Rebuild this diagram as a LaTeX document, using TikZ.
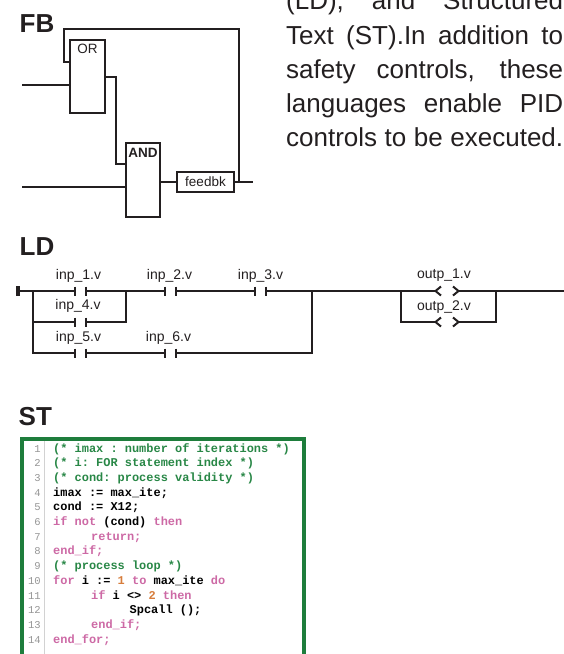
\documentclass[tikz,border=0pt]{standalone}
\usepackage{fontspec}
\setmainfont{Liberation Sans}
\setmonofont{Liberation Mono}
\usetikzlibrary{calc}
\definecolor{ink}{RGB}{35,31,32}
\definecolor{stgreen}{RGB}{30,125,60}
\definecolor{cmt}{RGB}{40,135,70}
\definecolor{kw}{RGB}{205,105,165}
\definecolor{num}{RGB}{215,125,60}
\definecolor{lnum}{RGB}{150,150,150}
\definecolor{gut}{RGB}{210,210,210}
\begin{document}
\begin{tikzpicture}[x=1pt,y=-1pt,
  wire/.style={draw=ink,line width=2pt},
  block/.style={draw=ink,line width=2pt,inner sep=0pt,outer sep=0pt,anchor=north west},
  blocklbl/.style={inner sep=0pt,text=ink,font=\fontsize{13.5pt}{14pt}\selectfont},
  heading/.style={anchor=base west,inner sep=0pt,text=ink,font=\fontsize{26pt}{30pt}\selectfont\bfseries},
  para/.style={anchor=base west,inner sep=0pt,text=ink,font=\fontsize{26pt}{34pt}\selectfont},
  contact/.style={minimum width=11pt,minimum height=9pt,inner sep=0pt,outer sep=0pt},
  coil/.style={minimum width=23pt,minimum height=9pt,inner sep=0pt,outer sep=0pt},
  ldlbl/.style={inner sep=0pt,text=ink,font=\fontsize{14pt}{15pt}\selectfont},
  code/.style={anchor=base west,inner sep=0pt,font=\fontsize{11.95pt}{14pt}\selectfont\ttfamily\bfseries},
  lno/.style={anchor=base east,inner sep=0pt,text=lnum,font=\fontsize{10.5pt}{12pt}\selectfont\ttfamily},
]
\clip (0,0) rectangle (564,654);

% ---------------- paragraph ----------------
\node[para] (p1) at (286,9.5) {\makebox[277pt][s]{(LD), and Structured}};
\node[para] (p2) at (286,44) {\makebox[277pt][s]{Text (ST).In addition to}};
\node[para] (p3) at (286,78) {\makebox[277pt][s]{safety controls, these}};
\node[para] (p4) at (286,112) {\makebox[277pt][s]{languages enable PID}};
\node[para] (p5) at (286,146.5) {\makebox[277pt][s]{controls to be executed.}};

% ---------------- FB ----------------
\node[heading] (hfb) at (19.5,32) {FB};
\node[block,minimum width=35pt,minimum height=73pt] (orb) at (70,40) {};
\node[block,minimum width=34pt,minimum height=74pt] (andb) at (126,143) {};
\node[block,minimum width=57pt,minimum height=20pt] (fbk) at (177,172) {};
\node[blocklbl] (fbkt) at (fbk.center) {feedbk};
\node[blocklbl,anchor=north] (ort) at ($(orb.north)+(0,4)$) {OR};
\node[blocklbl,anchor=north,font=\fontsize{13.5pt}{14pt}\selectfont\bfseries] (andt) at ($(andb.north)+(0,5)$) {AND};

\coordinate (in1) at (22,85);
\coordinate (in2) at (22,187);
\coordinate (out) at (253,182);
\coordinate (ltop) at (64,29);
\coordinate (o2) at ($(orb.north west)+(0,22)$);
\coordinate (a1) at ($(andb.north west)+(0,21)$);
\coordinate (lp) at ($(fbk.east)+(5,0)$);
\draw[wire] (in1) -- (in1 -| orb.west);
\draw[wire] (orb.east) -- ++(11,0) |- (a1);
\draw[wire] (in2) -- (in2 -| andb.west);
\draw[wire] (fbk.west -| andb.east) -- (fbk.west);
\draw[wire] (fbk.east) -- (out);
\draw[wire] (lp) |- (ltop) |- (o2);

% ---------------- LD ----------------
\node[heading] (hld) at (19.5,255) {LD};
\node[contact] (c1) at (80.5,291) {};
\node[contact] (c2) at (170.5,291) {};
\node[contact] (c3) at (260.5,291) {};
\node[contact] (c4) at (80.5,322) {};
\node[contact] (c5) at (80.5,353) {};
\node[contact] (c6) at (170.5,353) {};
\node[coil] (q1) at (447,291) {};
\node[coil] (q2) at (447,322) {};
\foreach \n in {c1,c2,c3,c4,c5,c6}
  \draw[wire] (\n.north west) -- (\n.south west) (\n.north east) -- (\n.south east);
\foreach \n in {q1,q2}
  \draw[wire,line join=miter] ($(\n.west)+(5.5,-4.5)$) -- (\n.west) -- ($(\n.west)+(5.5,4.5)$)
        ($(\n.east)+(-5.5,-4.5)$) -- (\n.east) -- ($(\n.east)+(-5.5,4.5)$);

\node[ldlbl] (l1) at ($(c1)+(-2,-15.5)$) {inp\_1.v};
\node[ldlbl] (l2) at ($(c2)+(-1,-15.5)$) {inp\_2.v};
\node[ldlbl] (l3) at ($(c3)+(0,-15.5)$) {inp\_3.v};
\node[ldlbl] (l4) at ($(c4)+(-2.5,-16)$) {inp\_4.v};
\node[ldlbl] (l5) at ($(c5)+(-2,-15.5)$) {inp\_5.v};
\node[ldlbl] (l6) at ($(c6)+(-2,-15.5)$) {inp\_6.v};
\node[ldlbl] (l7) at ($(q1)+(-3,-16)$) {outp\_1.v};
\node[ldlbl] (l8) at ($(q2)+(-3,-15)$) {outp\_2.v};

\coordinate (rail) at (18,291);
\coordinate (j1) at (33,291);
\coordinate (j2) at (126,291);
\coordinate (j4) at (312,291);
\coordinate (k1) at (401,291);
\coordinate (k2) at (496,291);
\coordinate (rend) at (566,291);
\draw[ink,line width=3.5pt] ($(rail)+(0,-5)$) -- ($(rail)+(0,5)$);
\draw[wire] (rail) -- (c1.west) (c1.east) -- (c2.west) (c2.east) -- (c3.west)
  (c3.east) -- (q1.west) (q1.east) -- (rend);
\draw[wire] (j1) |- (c5.west);
\draw[wire] (c4.west -| j1) -- (c4.west);
\draw[wire] (c4.east) -| (j2);
\draw[wire] (c5.east) -- (c6.west);
\draw[wire] (c6.east) -| (j4);
\draw[wire] (k1) |- (q2.west);
\draw[wire] (q2.east) -| (k2);

% ---------------- ST ----------------
\node[heading] (hst) at (18.5,425) {ST};
\draw[stgreen,line width=4pt,fill=white] (22,439) rectangle (304,700);
\draw[gut,line width=0.8pt] (44,441) -- (44,660);

\foreach \k [evaluate=\k as \yy using 452+14.7*(\k-1)] in {1,...,14}
  \node[lno] (n\k) at (41,\yy) {\k};

\node[code,text=cmt] (s1) at (53,452) {(* imax : number of iterations *)};
\node[code,text=cmt] (s2) at (53,466.7) {(* i: FOR statement index *)};
\node[code,text=cmt] (s3) at (53,481.4) {(* cond: process validity *)};
\node[code,text=black] (s4) at (53,496.1) {imax := max\_ite;};
\node[code,text=black] (s5) at (53,510.8) {cond := X12;};
\node[code,text=black] (s6) at (53,525.5) {\textcolor{kw}{if not} (cond) \textcolor{kw}{then}};
\node[code,text=kw] (s7) at (91,540.2) {return;};
\node[code,text=kw] (s8) at (53,554.9) {end\_if;};
\node[code,text=cmt] (s9) at (53,569.6) {(* process loop *)};
\node[code,text=black] (s10) at (53,584.3) {\textcolor{kw}{for} i := \textcolor{num}{1} \textcolor{kw}{to} max\_ite \textcolor{kw}{do}};
\node[code,text=black] (s11) at (91,599) {\textcolor{kw}{if} i <> \textcolor{num}{2} \textcolor{kw}{then}};
\node[code,text=black] (s12) at (129.5,613.7) {Spcall ();};
\node[code,text=kw] (s13) at (91,628.4) {end\_if;};
\node[code,text=kw] (s14) at (53,643.1) {end\_for;};
\end{tikzpicture}
\end{document}
